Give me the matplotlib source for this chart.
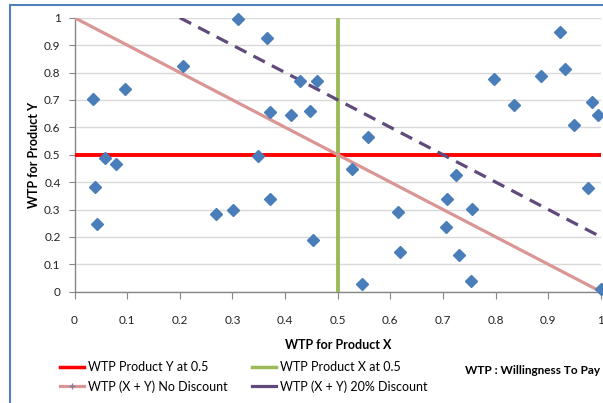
import matplotlib
matplotlib.use("Agg")
import matplotlib.pyplot as plt
from matplotlib.lines import Line2D
from matplotlib.patches import Rectangle

plt.rcParams['font.family'] = ['Lato', 'DejaVu Sans']

# Survey responses: willingness to pay for each product
wtp_x = [0.035, 0.096, 0.207, 0.311, 0.366, 0.371, 0.412, 0.447, 0.428, 0.460,
         0.558, 0.057, 0.079, 0.038, 0.043, 0.269, 0.302, 0.348, 0.371, 0.454,
         0.528, 0.546, 0.724, 0.708, 0.756, 0.615, 0.705, 0.618, 0.731, 0.754,
         0.976, 1.000, 0.796, 0.834, 0.886, 0.922, 0.932, 0.949, 0.984, 0.995]
wtp_y = [0.702, 0.739, 0.824, 0.997, 0.925, 0.655, 0.644, 0.658, 0.769, 0.770,
         0.564, 0.488, 0.465, 0.382, 0.247, 0.285, 0.297, 0.496, 0.337, 0.189,
         0.449, 0.028, 0.425, 0.337, 0.303, 0.292, 0.235, 0.145, 0.134, 0.040,
         0.380, 0.010, 0.777, 0.680, 0.786, 0.947, 0.812, 0.608, 0.691, 0.644]

# Reference lines
y_half_x = [0, 1]
y_half_y = [0.5, 0.5]
x_half_x = [0.5, 0.5]
x_half_y = [0, 1]
no_disc_x = [0, 1]
no_disc_y = [1, 0]
disc_x = [0.2, 1]
disc_y = [1, 0.2]

ticks = [0, 0.1, 0.2, 0.3, 0.4, 0.5, 0.6, 0.7, 0.8, 0.9, 1]
tick_labels = ['0', '0.1', '0.2', '0.3', '0.4', '0.5', '0.6', '0.7', '0.8', '0.9', '1']

fig = plt.figure(figsize=(6.03, 4.03), dpi=100)
fig.patches.append(Rectangle((10 / 603, -0.01), 1.1, 1 - 5 / 403 + 0.01,
                             transform=fig.transFigure, fill=False,
                             edgecolor='#4F81BD', linewidth=1.5, zorder=0))

ax = fig.add_axes([74.5 / 603, 1 - 291.7 / 403, (600.9 - 74.5) / 603, (291.7 - 17.7) / 403])
ax.set_xlim(0, 1)
ax.set_ylim(0, 1)
ax.set_xticks(ticks)
ax.set_xticklabels(tick_labels)
ax.set_yticks(ticks)
ax.set_yticklabels(tick_labels)

for s in ['top', 'right']:
    ax.spines[s].set_visible(False)
for s in ['left', 'bottom']:
    ax.spines[s].set_color('#868686')
    ax.spines[s].set_linewidth(1.0)
ax.yaxis.grid(True, color='#D9D9D9', linewidth=1.0)
ax.set_axisbelow(True)
ax.tick_params(axis='x', length=5, color='#868686', labelsize=8.5, pad=12, labelcolor='#222222')
ax.tick_params(axis='y', length=4, color='#868686', labelsize=8.5, pad=6, labelcolor='#222222')

ax.plot(wtp_x, wtp_y, linestyle='none', marker='D', markersize=6.5,
        color='#4A7EBB', zorder=5, clip_on=False)
ax.plot(y_half_x, y_half_y, color='#FF0000', linewidth=2.8, zorder=3)
ax.plot(x_half_x, x_half_y, color='#9BBB59', linewidth=2.8, zorder=3)
ax.plot(no_disc_x, no_disc_y, color='#D99694', linewidth=2.3, zorder=3)
ax.plot(disc_x, disc_y, color='#604A7B', linewidth=2.3, linestyle=(0, (4, 2.5)), zorder=3)

ax.set_xlabel('WTP for Product X', fontsize=9, fontweight='bold', labelpad=9)
ax.set_ylabel('WTP for Product Y', fontsize=9, fontweight='bold', labelpad=3)

handles = [
    Line2D([], [], color='#FF0000', linewidth=2.5),
    Line2D([], [], color='#D99694', linewidth=2.3, marker='+', markersize=4, markeredgecolor='#7F7F9F'),
    Line2D([], [], color='#9BBB59', linewidth=2.5),
    Line2D([], [], color='#604A7B', linewidth=2.3),
]
labels = ['WTP Product Y at 0.5', 'WTP (X + Y) No Discount',
          'WTP Product X at 0.5', 'WTP (X + Y) 20% Discount']
fig.legend(handles, labels, ncol=2, loc='center left',
           bbox_to_anchor=(55 / 603, 1 - 377 / 403), frameon=False,
           fontsize=9, handlelength=1.9, handletextpad=0.3,
           columnspacing=2.0, labelspacing=0.55, borderaxespad=0)
fig.text(465 / 603, 1 - 371 / 403, 'WTP : Willingness To Pay', fontsize=8.5,
         fontweight='bold', va='center', ha='left')

fig.savefig('out.png', dpi=100)
